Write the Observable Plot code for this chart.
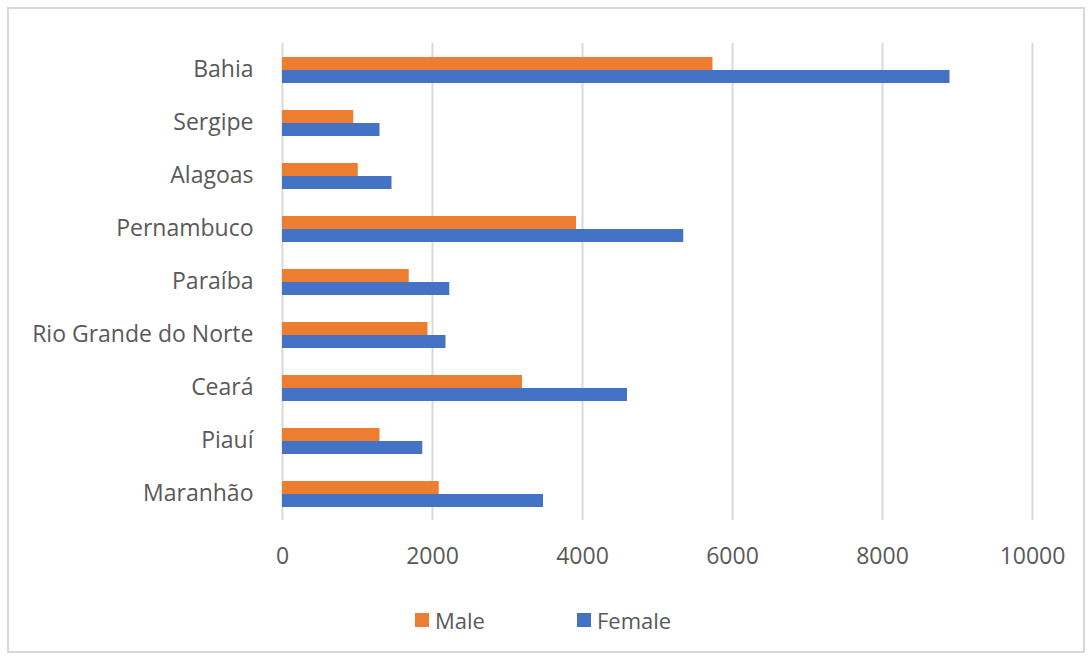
<!DOCTYPE html>
<html>
<head>
<meta charset="utf-8">
<script src="https://cdn.jsdelivr.net/npm/d3@7"></script>
<script src="https://cdn.jsdelivr.net/npm/@observablehq/plot@0.6"></script>
<style>
  html, body { margin: 0; padding: 0; background: #fff; }
  #wrap { position: relative; width: 1089px; height: 658px; overflow: hidden; font-family: "Open Sans", Lato, sans-serif; color: #595959; }
  #frame { position: absolute; left: 7px; top: 7px; width: 1074px; height: 642px; border: 2px solid #d9d9d9; }
  #chart { position: absolute; left: 0; top: 0; }
  #legend { position: absolute; top: 605px; left: 0; width: 1089px; height: 30px; font-size: 22px; }
  .item { position: absolute; display: flex; align-items: center; line-height: 30px; }
  .sw { width: 14px; height: 14px; margin-right: 6px; }
</style>
</head>
<body>
<div id="wrap">
  <div id="frame"></div>
  <div id="chart"></div>
  <div id="legend"></div>
</div>
<script>
// Northeast Brazilian states, top to bottom
const states = ["Bahia", "Sergipe", "Alagoas", "Pernambuco", "Paraíba", "Rio Grande do Norte", "Ceará", "Piauí", "Maranhão"];
const male   = [5740, 950, 1010, 3920, 1690, 1940, 3200, 1300, 2090];
const female = [8900, 1300, 1460, 5350, 2230, 2180, 4600, 1870, 3480];
const series = ["Male", "Female"];
const colors = ["#ED7D31", "#4472C4"];
const xTicks = [0, 2000, 4000, 6000, 8000, 10000];

const rows = states.flatMap((s, i) => [
  {state: s, sex: "Male", value: male[i]},
  {state: s, sex: "Female", value: female[i]}
]);

const chart = Plot.plot({
  width: 1089,
  height: 580,
  marginTop: 40,
  marginBottom: 57,
  marginLeft: 282,
  marginRight: 57,
  style: {fontFamily: "'Open Sans', Lato, sans-serif", fontSize: "23px", color: "#595959", background: "transparent"},
  x: {domain: [0, 10000], label: null},
  fy: {domain: states, padding: 0, label: null, axis: null},
  y: {domain: series, axis: null, paddingInner: 0, paddingOuter: 0.98},
  color: {domain: series, range: colors},
  marks: [
    Plot.gridX(xTicks, {stroke: "#d9d9d9", strokeOpacity: 1, strokeWidth: 2}),
    Plot.barX(rows, {fy: "state", y: "sex", x: "value", fill: "sex", insetTop: 0, insetBottom: 0}),
    Plot.axisX({ticks: xTicks, tickFormat: d3.format("d"), tickSize: 0, tickPadding: 27, label: null, fill: "#595959", fontSize: 23}),
    Plot.axisFy({anchor: "left", tickSize: 0, tickPadding: 29, label: null, fill: "#595959", fontSize: 23})
  ]
});
document.getElementById("chart").appendChild(chart);

// Legend below the plot
const legend = document.getElementById("legend");
const legendX = [415, 577];
series.forEach((name, i) => {
  const item = document.createElement("div");
  item.className = "item";
  item.style.left = legendX[i] + "px";
  item.innerHTML = `<span class="sw" style="background:${colors[i]}"></span><span>${name}</span>`;
  legend.appendChild(item);
});
</script>
</body>
</html>
